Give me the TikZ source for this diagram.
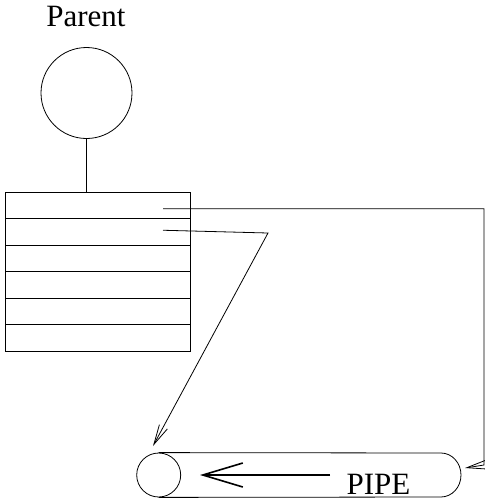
\documentclass[tikz,border=0pt]{standalone}
\usepackage{fontspec}
\setmainfont{Liberation Serif}
\usetikzlibrary{arrows.meta,positioning}

\newcommand{\varrowh}{26.5}
\newcommand{\varroww}{185}
\newcommand{\vartop}{192}
\newcommand{\varpipey}{475}

\begin{document}
\begin{tikzpicture}[x=1pt, y=-1pt, line width=0.8pt,
	lbl/.style={font=\fontsize{31}{36}\selectfont, inner sep=0pt},
	tablerow/.style={draw, minimum width=\varroww pt, minimum height=\varrowh pt, inner sep=0pt, outer sep=0pt},
	barb/.style={-{Straight Barb[length=20pt, width=9pt]}}]

	\useasboundingbox (0,0) rectangle (485,499);

	% parent
	\node [lbl, anchor=base] (parentlbl) at (86,26.7) {Parent};
	\node [circle, draw, minimum size=91pt, inner sep=0pt] (parent) at (86.5,93) {};

	% table
	\foreach \i in {1,...,6}
		\node [tablerow] (row\i) at (97.5, {\vartop+(\i-0.5)*\varrowh}) {};
	\draw (parent.south) -- (parent.south |- row1.north);

	% pipe
	\node [circle, draw, minimum size=44pt, inner sep=0pt] (pipeend) at (158.7,\varpipey) {};
	\coordinate (pipetop) at (441,453);
	\coordinate (pipebot) at (441,497);
	\draw (pipeend.north) -- (pipetop) arc (-90:90:20 and 22) -- (pipeend.south);
	\draw [-{Straight Barb[length=40pt, width=24pt]}, line width=1.6pt] (330,\varpipey) -- (200,\varpipey);
	\node [lbl, anchor=base] (pipelbl) at (378.5,494) {PIPE};

	% connectors
	\coordinate (r1) at ([xshift=65.5pt, yshift=-3.5pt]row1.center);
	\coordinate (r2) at ([xshift=65.5pt, yshift=1.5pt]row2.center);
	\coordinate (rightbot) at (484,465);
	\coordinate (pipein) at (465,468);
	\coordinate (bend) at (268,233);
	\coordinate (pipeleft) at (153,446);
	\draw [barb] (r1) -- (r1 -| rightbot) -- (rightbot) -- (pipein);
	\draw [barb] (r2) -- (bend) -- (pipeleft);

\end{tikzpicture}
\end{document}
